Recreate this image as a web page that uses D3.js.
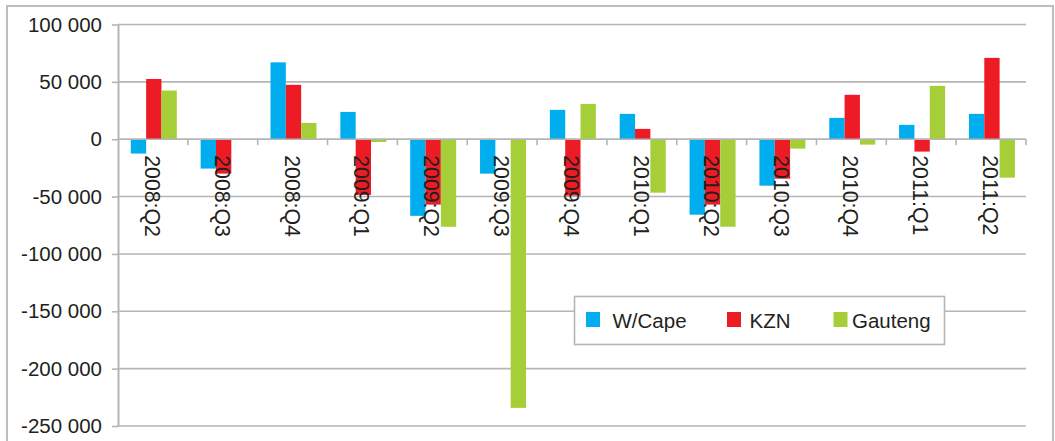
<!DOCTYPE html>
<html>
<head>
<meta charset="utf-8">
<script src="https://cdn.jsdelivr.net/npm/d3@7"></script>
<style>
  html, body { margin: 0; padding: 0; background: #fff; }
  svg { display: block; }
  text { font-family: "Liberation Sans", Arial, sans-serif; fill: #231f20; }
</style>
</head>
<body>
<svg id="chart" width="1055" height="441"></svg>
<script>
// Quarterly employment change by province
const categories = ["2008:Q2", "2008:Q3", "2008:Q4", "2009:Q1", "2009:Q2", "2009:Q3", "2009:Q4",
                    "2010:Q1", "2010:Q2", "2010:Q3", "2010:Q4", "2011:Q1", "2011:Q2"];
const seriesNames = ["W/Cape", "KZN", "Gauteng"];
const wCape   = [-12500, -25600, 67000, 23800, -66800, -30000, 25600, 22100, -65800, -40500, 18600, 12500, 22100];
const kzn     = [52500, -30000, 47400, -48600, -57000, 0, -49200, 9000, -57000, -34400, 38700, -10800, 70900];
const gauteng = [42400, 0, 14200, -2400, -76300, -234200, 30800, -46600, -76300, -8200, -4700, 46500, -33500];
const seriesValues = [wCape, kzn, gauteng];
const seriesColors = ["#00aeef", "#ed1c24", "#a6ce39"];
const yTickValues = [100000, 50000, 0, -50000, -100000, -150000, -200000, -250000];
const yTickLabels = ["100 000", "50 000", "0", "-50 000", "-100 000", "-150 000", "-200 000", "-250 000"];

const svg = d3.select("#chart");
const plot = { left: 118, right: 1026, top: 24.5, bottom: 426 };
const gridColor = "#b5b5b5";
const fontSize = "20.5px";

// outer frame
svg.append("rect")
  .attr("x", 7).attr("y", 6)
  .attr("width", 1046).attr("height", 460)
  .attr("fill", "none").attr("stroke", "#bdbdbd").attr("stroke-width", 2);

const y = d3.scaleLinear().domain([-250000, 100000]).range([plot.bottom, plot.top]);
const x = d3.scaleBand().domain(categories).range([plot.left, plot.right]).padding(0);
const xInner = d3.scaleBand().domain(seriesNames).range([12.8, 58.8]).padding(0);

// horizontal gridlines
svg.append("g").selectAll("line").data(yTickValues).join("line")
  .attr("x1", plot.left).attr("x2", plot.right)
  .attr("y1", d => y(d)).attr("y2", d => y(d))
  .attr("stroke", gridColor).attr("stroke-width", 1.6);

// bars
const rows = categories.map((c, i) => ({ cat: c, vals: seriesNames.map((s, k) => ({ s, k, v: seriesValues[k][i] })) }));
svg.append("g").selectAll("g").data(rows).join("g")
  .attr("transform", d => `translate(${x(d.cat)},0)`)
  .selectAll("rect").data(d => d.vals.filter(e => e.v !== 0)).join("rect")
  .attr("x", d => xInner(d.s))
  .attr("width", xInner.bandwidth())
  .attr("y", d => Math.min(y(d.v), y(0)))
  .attr("height", d => Math.abs(y(d.v) - y(0)))
  .attr("fill", d => seriesColors[d.k]);

// zero line over the bars
svg.append("line")
  .attr("x1", plot.left).attr("x2", plot.right)
  .attr("y1", y(0)).attr("y2", y(0))
  .attr("stroke", gridColor).attr("stroke-width", 1.6);

// y axis
const yAxis = d3.axisLeft(y)
  .tickValues(yTickValues)
  .tickFormat((d, i) => yTickLabels[i])
  .tickSizeInner(6).tickSizeOuter(0).tickPadding(10);
const gy = svg.append("g").attr("transform", `translate(${plot.left},0)`).call(yAxis);
gy.select(".domain").attr("stroke", gridColor).attr("stroke-width", 2);
gy.selectAll(".tick line").attr("stroke", gridColor).attr("stroke-width", 1.6);
gy.selectAll(".tick text")
  .attr("fill", "#231f20")
  .style("font-size", fontSize)
  .style("font-family", '"Liberation Sans", Arial, sans-serif');

// category tick marks at band boundaries along the zero line
const boundaries = categories.map(c => x(c) + x.bandwidth());
svg.append("g").selectAll("line").data(boundaries).join("line")
  .attr("x1", d => d).attr("x2", d => d)
  .attr("y1", y(0)).attr("y2", y(0) + 6)
  .attr("stroke", gridColor).attr("stroke-width", 1.6);

// rotated category labels
svg.append("g").selectAll("text").data(categories).join("text")
  .attr("transform", d => `translate(${x(d) + x.bandwidth() / 2 - 1},${y(0) + 16}) rotate(90)`)
  .attr("text-anchor", "start")
  .attr("dominant-baseline", "central")
  .style("font-size", "21.3px")
  .text(d => d);

// legend
const legend = svg.append("g");
legend.append("rect")
  .attr("x", 574.5).attr("y", 296.5).attr("width", 370).attr("height", 48)
  .attr("fill", "#fff").attr("stroke", gridColor).attr("stroke-width", 1.6);
const legendX = [586, 727, 833.5];
const items = legend.selectAll("g").data(seriesNames).join("g")
  .attr("transform", (d, i) => `translate(${legendX[i]},0)`);
items.append("rect")
  .attr("x", 0).attr("y", 312).attr("width", 14).attr("height", 15)
  .attr("fill", (d, i) => seriesColors[i]);
items.append("text")
  .attr("x", (d, i) => i === 2 ? 18.5 : (i === 1 ? 22.5 : 26.5))
  .attr("y", 320)
  .attr("dominant-baseline", "central")
  .style("font-size", fontSize)
  .text(d => d);
</script>
</body>
</html>
